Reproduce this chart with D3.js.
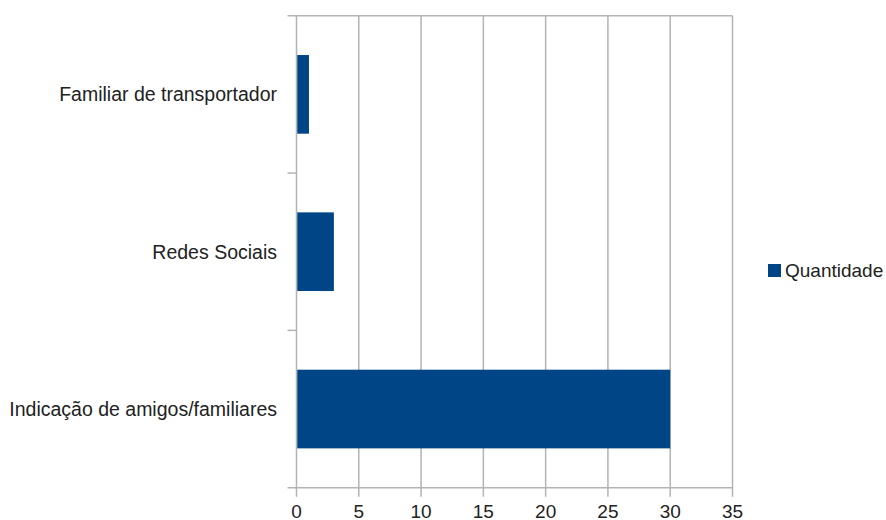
<!DOCTYPE html>
<html>
<head>
<meta charset="utf-8">
<script src="https://cdn.jsdelivr.net/npm/d3@7"></script>
<style>
  body { margin: 0; background: #fff; }
  svg { display: block; font-family: "Liberation Sans", Arial, sans-serif; }
</style>
</head>
<body>
<svg id="svg1" width="886" height="520"></svg>
<script>
var categories = ["Familiar de transportador", "Redes Sociais", "Indicação de amigos/familiares"];
var values = [1, 3, 30];
var xTicks = [0, 5, 10, 15, 20, 25, 30, 35];
var seriesName = "Quantidade";

var plotLeft = 296.5, plotRight = 732.5, plotTop = 15.7, plotBottom = 487.7;
var grid = "#b3b3b3";
var barColor = "#004586";

var svg = d3.select('#svg1').append('g');

var x = d3.scaleLinear().domain([0, 35]).range([plotLeft, plotRight]);
var y = d3.scaleBand().domain(categories).range([plotTop, plotBottom])
    .paddingInner(0.5).paddingOuter(0.25);

// vertical gridlines, running a bit below the axis as tick marks
svg.selectAll("line.grid")
    .data(xTicks)
    .enter()
    .append("line")
    .attr("class", "grid")
    .attr("x1", function (d) { return x(d); })
    .attr("x2", function (d) { return x(d); })
    .attr("y1", plotTop)
    .attr("y2", plotBottom + 9)
    .attr("stroke", grid)
    .attr("stroke-width", 1.5);

// top line and bottom axis line
[plotTop, plotBottom].forEach(function (yy) {
    svg.append("line")
        .attr("x1", plotLeft - 9).attr("x2", plotRight)
        .attr("y1", yy).attr("y2", yy)
        .attr("stroke", grid).attr("stroke-width", 1.5);
});

// category boundary ticks on left
var step = y.step();
var bounds = [y(categories[1]) - step * 0.25, y(categories[2]) - step * 0.25];
svg.selectAll("line.ytick")
    .data(bounds)
    .enter()
    .append("line")
    .attr("class", "ytick")
    .attr("x1", plotLeft - 9).attr("x2", plotLeft)
    .attr("y1", function (d) { return d; })
    .attr("y2", function (d) { return d; })
    .attr("stroke", grid).attr("stroke-width", 1.5);

// bars
svg.selectAll("rect.bar")
    .data(values)
    .enter()
    .append("rect")
    .attr("class", "bar")
    .attr("x", x(0) + 0.75)
    .attr("y", function (d, i) { return y(categories[i]); })
    .attr("width", function (d) { return x(d) - x(0) - 0.75; })
    .attr("height", y.bandwidth())
    .attr("fill", barColor);

// category labels
svg.selectAll("text.cat")
    .data(categories)
    .enter()
    .append("text")
    .attr("class", "cat")
    .attr("x", 277)
    .attr("y", function (d) { return y(d) + y.bandwidth() / 2; })
    .attr("dy", "0.36em")
    .attr("text-anchor", "end")
    .attr("font-size", 19.5)
    .attr("fill", "#222")
    .text(function (d) { return d; });

// x tick labels
svg.selectAll("text.xt")
    .data(xTicks)
    .enter()
    .append("text")
    .attr("class", "xt")
    .attr("x", function (d) { return x(d); })
    .attr("y", 517.5)
    .attr("text-anchor", "middle")
    .attr("font-size", 19)
    .attr("fill", "#222")
    .text(function (d) { return d; });

// legend
svg.append("rect")
    .attr("x", 768).attr("y", 264)
    .attr("width", 13).attr("height", 13)
    .attr("fill", barColor);
svg.append("text")
    .attr("x", 785).attr("y", 277)
    .attr("font-size", 19)
    .attr("fill", "#222")
    .text(seriesName);
</script>
</body>
</html>
